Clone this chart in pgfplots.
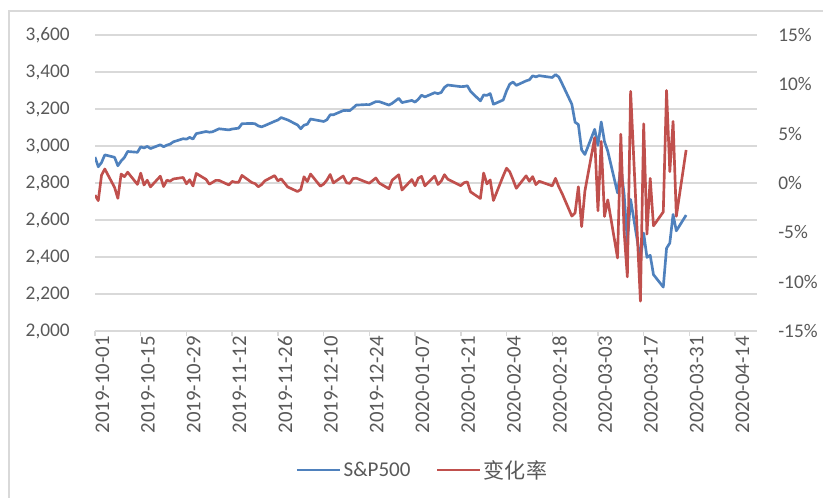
\documentclass[border=0pt]{standalone}
\usepackage{pgfplots}
\pgfplotsset{compat=1.18}
\usepackage{fontspec}
\setmainfont{Carlito}
\newfontfamily\cjk{Noto Sans CJK SC}
\definecolor{sblue}{HTML}{4F81BD}
\definecolor{sred}{HTML}{C0504D}
\definecolor{gridc}{HTML}{D9D9D9}
\definecolor{txt}{HTML}{595959}
\newcommand{\lblfont}{\fontsize{14.5}{17}\selectfont}
\newcommand{\datefont}{\fontsize{15.6}{18}\selectfont}
\newcommand{\legfont}{\fontsize{15.8}{18}\selectfont}
\begin{document}
\begin{tikzpicture}
\path[use as bounding box] (0pt,0pt) rectangle (617.25pt,372.75pt);
\draw[gridc, line width=1pt] (6.75pt,-4pt) -- (6.75pt,364.5pt) -- (625pt,364.5pt);
\begin{axis}[
  at={(71.25pt,124.5pt)}, anchor=south west,
  scale only axis, width=496.5pt, height=222pt,
  xmin=0, xmax=202.7, ymin=2000, ymax=3600,
  axis x line*=bottom, axis y line*=left,
  y axis line style={draw=none},
  x axis line style={gridc, line width=1.1pt},
  ytick={2000,2200,...,3600},
  ymajorgrids, grid style={gridc, line width=1.1pt},
  ytick style={draw=none},
  xtick={0,14,...,196},
  xticklabels={2019-10-01,2019-10-15,2019-10-29,2019-11-12,2019-11-26,2019-12-10,2019-12-24,2020-01-07,2020-01-21,2020-02-04,2020-02-18,2020-03-03,2020-03-17,2020-03-31,2020-04-14},
  xtick style={gridc, line width=1.1pt},
  tick align=outside, major tick length=3.75pt,
  x tick label style={rotate=90, anchor=east, font=\datefont, text=txt, inner sep=0pt, yshift=-5.5pt},
  y tick label style={font=\lblfont, text=txt, inner sep=0pt, xshift=-15pt},
  /pgf/number format/assume math mode=true,
  /pgf/number format/1000 sep={,},
  scaled y ticks=false,
]
\addplot[sblue, line width=2pt, line join=round] coordinates {
(0,2940.25)(1,2887.61)(2,2910.63)(3,2952.01)(6,2938.79)(7,2893.06)(8,2919.40)(9,2938.13)(10,2970.27)(13,2966.15)(14,2995.68)(15,2989.69)(16,2997.95)(17,2986.20)(20,3006.72)(21,2995.99)(22,3004.52)(23,3010.29)(24,3022.55)(27,3039.42)(28,3036.89)(29,3046.77)(30,3037.56)
(31,3066.91)(34,3078.27)(35,3074.62)(36,3076.78)(37,3085.18)(38,3093.08)(41,3087.01)(42,3091.84)(43,3094.04)(44,3096.63)(45,3120.46)(48,3122.03)(49,3120.18)(50,3108.46)(51,3103.54)(52,3110.29)(55,3133.64)(56,3140.52)(57,3153.63)(59,3140.98)
(62,3113.87)(63,3093.20)(64,3112.76)(65,3117.43)(66,3145.91)(69,3135.96)(70,3132.52)(71,3141.63)(72,3168.57)(73,3168.80)(76,3191.45)(77,3192.52)(78,3191.14)(79,3205.37)(80,3221.22)(83,3224.01)(84,3223.38)(86,3239.91)(87,3240.02)(90,3221.29)(91,3230.78)
(93,3257.85)(94,3234.85)(97,3246.28)(98,3237.18)(99,3253.05)(100,3274.70)(101,3265.35)(104,3288.13)(105,3283.15)(106,3289.29)(107,3316.81)(108,3329.62)(112,3320.79)(113,3321.75)(114,3325.54)(115,3295.47)(118,3243.63)(119,3276.24)(120,3273.40)(121,3283.66)(122,3225.52)
(125,3248.92)(126,3297.59)(127,3334.69)(128,3345.78)(129,3327.71)(132,3352.09)(133,3357.75)(134,3379.45)(135,3373.94)(136,3380.16)(140,3370.29)(141,3386.15)(142,3373.23)(143,3337.75)(146,3225.89)(147,3128.21)(148,3116.39)(149,2978.76)(150,2954.22)
(153,3090.23)(154,3003.37)(155,3130.12)(156,3023.94)(157,2972.37)(160,2746.56)(161,2882.23)(162,2741.38)(163,2480.64)(164,2711.02)(167,2386.13)(168,2529.19)(169,2398.10)(170,2409.39)(171,2304.92)(174,2237.40)(175,2447.33)(176,2475.56)(177,2630.07)(178,2541.47)(181,2626.65)
};
\end{axis}
\begin{axis}[
  at={(71.25pt,124.5pt)}, anchor=south west,
  scale only axis, width=496.5pt, height=222pt,
  xmin=0, xmax=202.7, ymin=-15, ymax=15,
  axis x line=none, axis y line*=right,
  y axis line style={draw=none},
  ytick={-15,-10,...,15},
  ytick style={draw=none},
  yticklabel={\pgfmathprintnumber{\tick}\%},
  y tick label style={font=\lblfont, text=txt, inner sep=0pt, anchor=west, xshift=15.75pt},
  /pgf/number format/assume math mode=true,
  legend columns=2,
  legend style={at={(0.495,-0.47)}, anchor=center, draw=none, fill=none,
    font=\legfont, text=txt,
    /tikz/every even column/.append style={column sep=17pt},
    inner sep=0pt},
  legend image code/.code={\draw[#1] (0pt,0pt) -- (32pt,0pt);},
]
\addlegendimage{sblue, line width=2pt}
\addlegendentry{S\&P500}
\addplot[sred, line width=2pt, line join=round] coordinates {
(0,-1.23)(1,-1.79)(2,0.80)(3,1.42)(6,-0.45)(7,-1.56)(8,0.91)(9,0.64)(10,1.09)(13,-0.14)(14,1.00)(15,-0.20)(16,0.28)(17,-0.39)(20,0.69)(21,-0.36)(22,0.28)(23,0.19)(24,0.41)(27,0.56)(28,-0.08)(29,0.33)(30,-0.30)
(31,0.97)(34,0.37)(35,-0.12)(36,0.07)(37,0.27)(38,0.26)(41,-0.20)(42,0.16)(43,0.07)(44,0.08)(45,0.77)(48,0.05)(49,-0.06)(50,-0.38)(51,-0.16)(52,0.22)(55,0.75)(56,0.22)(57,0.42)(59,-0.40)
(62,-0.86)(63,-0.66)(64,0.63)(65,0.15)(66,0.91)(69,-0.32)(70,-0.11)(71,0.29)(72,0.86)(73,0.01)(76,0.71)(77,0.03)(78,-0.04)(79,0.45)(80,0.49)(83,0.09)(84,-0.02)(86,0.51)(87,0.00)(90,-0.58)(91,0.29)
(93,0.84)(94,-0.71)(97,0.35)(98,-0.28)(99,0.49)(100,0.67)(101,-0.29)(104,0.70)(105,-0.15)(106,0.19)(107,0.84)(108,0.39)(112,-0.27)(113,0.03)(114,0.11)(115,-0.90)(118,-1.57)(119,1.01)(120,-0.09)(121,0.31)(122,-1.77)
(125,0.73)(126,1.50)(127,1.13)(128,0.33)(129,-0.54)(132,0.73)(133,0.17)(134,0.65)(135,-0.16)(136,0.18)(140,-0.29)(141,0.47)(142,-0.38)(143,-1.05)(146,-3.35)(147,-3.03)(148,-0.38)(149,-4.42)(150,-0.82)
(153,4.60)(154,-2.81)(155,4.22)(156,-3.39)(157,-1.71)(160,-7.60)(161,4.94)(162,-4.89)(163,-9.51)(164,9.29)(167,-11.98)(168,6.00)(169,-5.18)(170,0.47)(171,-4.34)(174,-2.93)(175,9.38)(176,1.15)(177,6.24)(178,-3.37)(181,3.35)
};
\addlegendentry{{\cjk 变化率}}
\end{axis}
\end{tikzpicture}
\end{document}
